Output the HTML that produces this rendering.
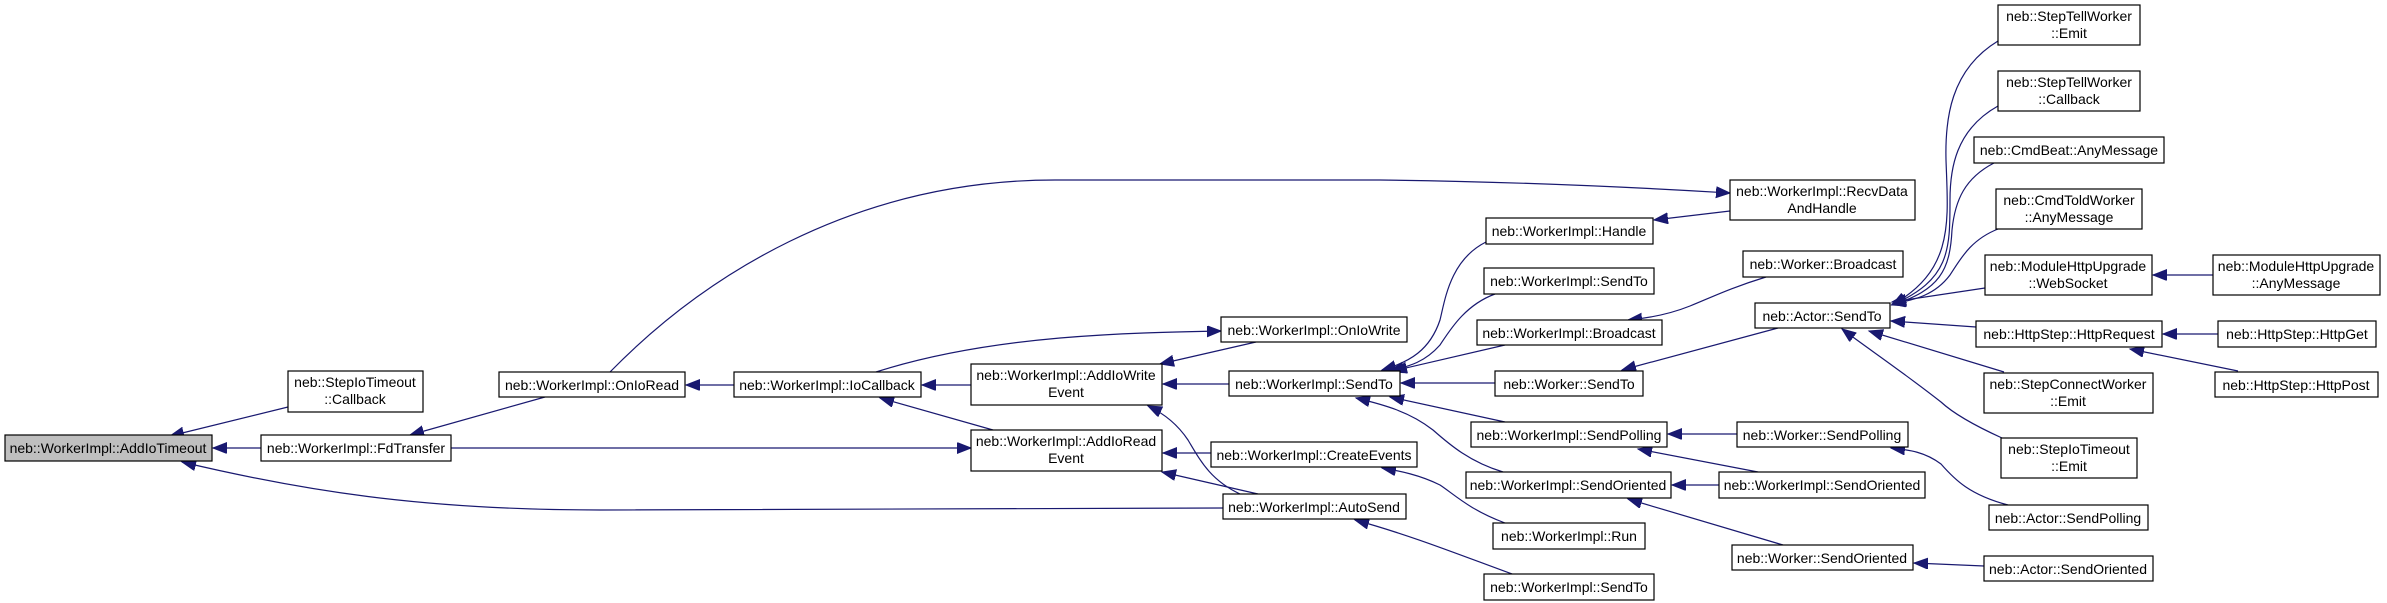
<!DOCTYPE html>
<html><head><meta charset="utf-8"><style>
html,body{margin:0;padding:0;background:#fff;}
svg{display:block;}
text{font-family:"Liberation Sans",Arial,sans-serif;font-size:14px;fill:#000;text-anchor:middle;}
rect{fill:#fff;stroke:#000;stroke-width:1.2;}
.e{fill:none;stroke:#191970;stroke-width:1.2;marker-end:url(#a);}
</style></head><body>
<svg width="2387" height="603" viewBox="0 0 2387 603" xmlns="http://www.w3.org/2000/svg">
<defs><marker id="a" markerUnits="userSpaceOnUse" markerWidth="16" markerHeight="12" refX="14" refY="5.5" orient="auto"><path d="M0,0 L14,5.5 L0,11 z" fill="#191970" stroke="#191970"/></marker></defs>

<!-- edges -->
<path class="e" d="M288,407 L170,436"/>
<path class="e" d="M261,448 L213,448"/>
<path class="e" d="M1223,508 L600,510 C420,510 300,490 182,462"/>
<path class="e" d="M545,397 L410,435"/>
<path class="e" d="M451,448 L971,448"/>
<path class="e" d="M610,372 C700,280 850,180 1055,180 L1380,180 C1550,182 1680,190 1730,193"/>
<path class="e" d="M734,385 L686,385"/>
<path class="e" d="M971,385 L922,385"/>
<path class="e" d="M993,430 L880,398"/>
<path class="e" d="M876,372 C920,358 980,345 1060,338 C1120,333 1170,332 1221,331"/>
<path class="e" d="M1256,342 L1160,364"/>
<path class="e" d="M1229,384 L1163,384"/>
<path class="e" d="M1240,494 C1210,480 1200,460 1188,440 C1178,425 1165,414 1148,406"/>
<path class="e" d="M1211,453 L1163,453"/>
<path class="e" d="M1258,494 L1162,472"/>
<path class="e" d="M1486,242 C1450,260 1445,300 1440,320 C1430,350 1410,362 1382,370"/>
<path class="e" d="M1495,294 C1465,305 1450,330 1440,345 C1425,362 1410,366 1390,371"/>
<path class="e" d="M1505,345 L1393,371"/>
<path class="e" d="M1495,383 L1401,383"/>
<path class="e" d="M1505,422 L1390,397"/>
<path class="e" d="M1503,472 C1470,462 1450,445 1433,430 C1410,412 1385,405 1356,398"/>
<path class="e" d="M1505,523 C1470,510 1455,495 1440,485 C1420,475 1400,471 1382,468"/>
<path class="e" d="M1512,574 C1460,555 1410,535 1355,520"/>
<path class="e" d="M1730,211 L1654,220"/>
<path class="e" d="M1766,277 C1730,288 1710,298 1690,306 C1670,314 1650,318 1628,320"/>
<path class="e" d="M1778,328 L1622,370"/>
<path class="e" d="M1737,434 L1668,434"/>
<path class="e" d="M1758,472 L1638,449"/>
<path class="e" d="M1719,485 L1672,485"/>
<path class="e" d="M1783,545 L1628,499"/>
<path class="e" d="M2008,505 C1970,495 1955,480 1941,464 C1925,452 1910,450 1891,448"/>
<path class="e" d="M1984,566 L1914,563"/>
<path class="e" d="M1998,41 C1950,70 1945,120 1946,160 C1948,220 1955,270 1892,305"/>
<path class="e" d="M1998,106 C1955,130 1950,170 1950,200 C1950,250 1950,280 1892,305"/>
<path class="e" d="M1994,163 C1965,178 1955,200 1952,230 C1950,270 1940,290 1892,305"/>
<path class="e" d="M1998,229 C1970,240 1960,260 1950,275 C1935,295 1915,300 1892,304"/>
<path class="e" d="M1985,288 L1892,302"/>
<path class="e" d="M1976,327 L1891,321"/>
<path class="e" d="M2004,372 L1869,331"/>
<path class="e" d="M2002,438 C1980,428 1955,415 1941,402 C1900,370 1870,350 1842,329"/>
<path class="e" d="M2213,275 L2153,275"/>
<path class="e" d="M2218,334 L2163,334"/>
<path class="e" d="M2238,371 L2130,349"/>

<!-- nodes -->
<rect x="5" y="435" width="207" height="26" style="fill:#bfbfbf"/><text x="108" y="453">neb::WorkerImpl::AddIoTimeout</text>
<rect x="288" y="371" width="135" height="41"/><text x="355" y="387">neb::StepIoTimeout</text><text x="355" y="404">::Callback</text>
<rect x="261" y="435" width="190" height="26"/><text x="356" y="453">neb::WorkerImpl::FdTransfer</text>
<rect x="499" y="372" width="186" height="25"/><text x="592" y="390">neb::WorkerImpl::OnIoRead</text>
<rect x="734" y="372" width="187" height="25"/><text x="827" y="390">neb::WorkerImpl::IoCallback</text>
<rect x="971" y="364" width="191" height="41"/><text x="1066" y="380">neb::WorkerImpl::AddIoWrite</text><text x="1066" y="397">Event</text>
<rect x="971" y="430" width="191" height="41"/><text x="1066" y="446">neb::WorkerImpl::AddIoRead</text><text x="1066" y="463">Event</text>
<rect x="1221" y="317" width="186" height="25"/><text x="1314" y="335">neb::WorkerImpl::OnIoWrite</text>
<rect x="1229" y="371" width="171" height="25"/><text x="1314" y="389">neb::WorkerImpl::SendTo</text>
<rect x="1211" y="442" width="206" height="25"/><text x="1314" y="460">neb::WorkerImpl::CreateEvents</text>
<rect x="1223" y="494" width="183" height="25"/><text x="1314" y="512">neb::WorkerImpl::AutoSend</text>
<rect x="1486" y="218" width="167" height="26"/><text x="1569" y="236">neb::WorkerImpl::Handle</text>
<rect x="1484" y="268" width="170" height="26"/><text x="1569" y="286">neb::WorkerImpl::SendTo</text>
<rect x="1477" y="320" width="185" height="25"/><text x="1569" y="338">neb::WorkerImpl::Broadcast</text>
<rect x="1495" y="371" width="148" height="25"/><text x="1569" y="389">neb::Worker::SendTo</text>
<rect x="1471" y="422" width="196" height="25"/><text x="1569" y="440">neb::WorkerImpl::SendPolling</text>
<rect x="1466" y="472" width="205" height="26"/><text x="1568" y="490">neb::WorkerImpl::SendOriented</text>
<rect x="1493" y="523" width="152" height="26"/><text x="1569" y="541">neb::WorkerImpl::Run</text>
<rect x="1484" y="574" width="170" height="26"/><text x="1569" y="592">neb::WorkerImpl::SendTo</text>
<rect x="1730" y="180" width="185" height="40"/><text x="1822" y="196">neb::WorkerImpl::RecvData</text><text x="1822" y="213">AndHandle</text>
<rect x="1743" y="251" width="160" height="26"/><text x="1823" y="269">neb::Worker::Broadcast</text>
<rect x="1755" y="303" width="135" height="25"/><text x="1822" y="321">neb::Actor::SendTo</text>
<rect x="1737" y="422" width="171" height="25"/><text x="1822" y="440">neb::Worker::SendPolling</text>
<rect x="1719" y="472" width="206" height="26"/><text x="1822" y="490">neb::WorkerImpl::SendOriented</text>
<rect x="1732" y="545" width="181" height="25"/><text x="1822" y="563">neb::Worker::SendOriented</text>
<rect x="1998" y="5" width="142" height="40"/><text x="2069" y="21">neb::StepTellWorker</text><text x="2069" y="38">::Emit</text>
<rect x="1998" y="71" width="142" height="40"/><text x="2069" y="87">neb::StepTellWorker</text><text x="2069" y="104">::Callback</text>
<rect x="1974" y="137" width="190" height="26"/><text x="2069" y="155">neb::CmdBeat::AnyMessage</text>
<rect x="1996" y="189" width="146" height="40"/><text x="2069" y="205">neb::CmdToldWorker</text><text x="2069" y="222">::AnyMessage</text>
<rect x="1985" y="255" width="167" height="40"/><text x="2068" y="271">neb::ModuleHttpUpgrade</text><text x="2068" y="288">::WebSocket</text>
<rect x="1976" y="321" width="186" height="26"/><text x="2069" y="339">neb::HttpStep::HttpRequest</text>
<rect x="1984" y="373" width="169" height="40"/><text x="2068" y="389">neb::StepConnectWorker</text><text x="2068" y="406">::Emit</text>
<rect x="2001" y="438" width="136" height="40"/><text x="2069" y="454">neb::StepIoTimeout</text><text x="2069" y="471">::Emit</text>
<rect x="1989" y="505" width="159" height="25"/><text x="2068" y="523">neb::Actor::SendPolling</text>
<rect x="1984" y="556" width="169" height="25"/><text x="2068" y="574">neb::Actor::SendOriented</text>
<rect x="2213" y="255" width="167" height="40"/><text x="2296" y="271">neb::ModuleHttpUpgrade</text><text x="2296" y="288">::AnyMessage</text>
<rect x="2218" y="321" width="158" height="26"/><text x="2297" y="339">neb::HttpStep::HttpGet</text>
<rect x="2215" y="372" width="163" height="25"/><text x="2296" y="390">neb::HttpStep::HttpPost</text>
</svg>
</body></html>
